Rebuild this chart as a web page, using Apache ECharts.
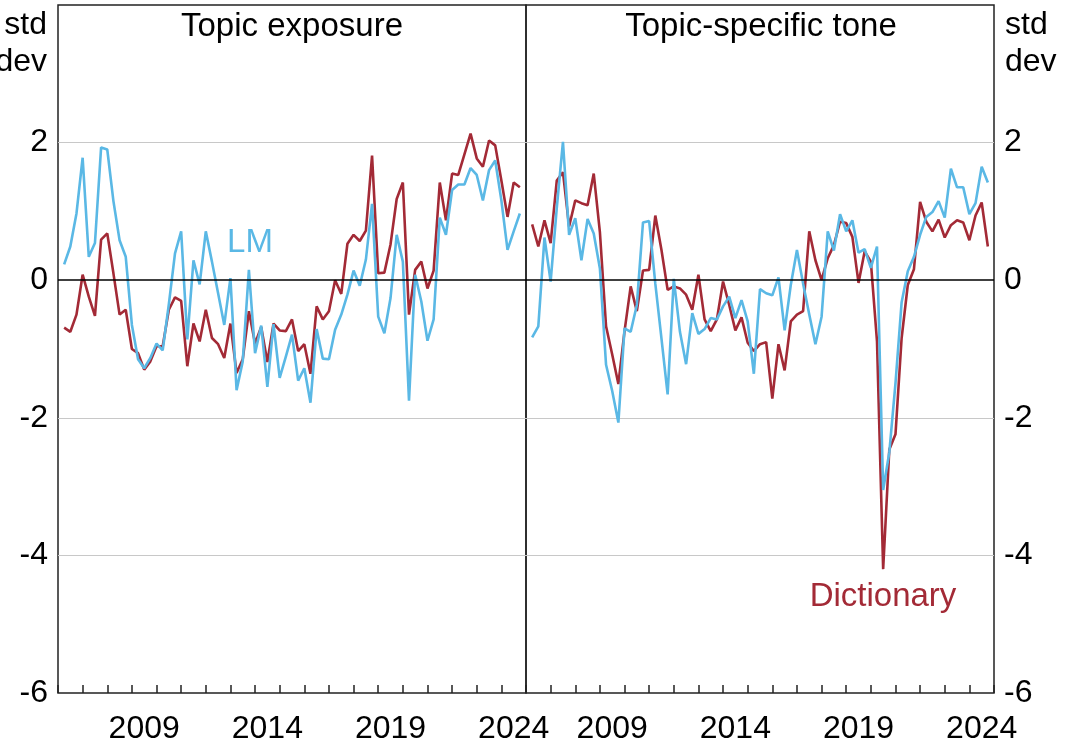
<!DOCTYPE html>
<html><head><meta charset="utf-8">
<script src="https://cdn.jsdelivr.net/npm/echarts@6.0.0/dist/echarts.min.js"></script>
<style>html,body{margin:0;padding:0;background:#fff}#c{width:1065px;height:750px}</style>
</head><body><div id="c"></div>
<script>
const quarters = [
'2006Q1','2006Q2','2006Q3','2006Q4','2007Q1','2007Q2','2007Q3','2007Q4',
'2008Q1','2008Q2','2008Q3','2008Q4','2009Q1','2009Q2','2009Q3','2009Q4',
'2010Q1','2010Q2','2010Q3','2010Q4','2011Q1','2011Q2','2011Q3','2011Q4',
'2012Q1','2012Q2','2012Q3','2012Q4','2013Q1','2013Q2','2013Q3','2013Q4',
'2014Q1','2014Q2','2014Q3','2014Q4','2015Q1','2015Q2','2015Q3','2015Q4',
'2016Q1','2016Q2','2016Q3','2016Q4','2017Q1','2017Q2','2017Q3','2017Q4',
'2018Q1','2018Q2','2018Q3','2018Q4','2019Q1','2019Q2','2019Q3','2019Q4',
'2020Q1','2020Q2','2020Q3','2020Q4','2021Q1','2021Q2','2021Q3','2021Q4',
'2022Q1','2022Q2','2022Q3','2022Q4','2023Q1','2023Q2','2023Q3','2023Q4',
'2024Q1','2024Q2','2024Q3'];
const years = ['2006','2007','2008','2009','2010','2011','2012','2013','2014','2015',
'2016','2017','2018','2019','2020','2021','2022','2023','2024'];
const yearLabels = ['2009','2014','2019','2024'];

const exposureLM = [0.23,0.49,0.97,1.78,0.34,0.54,1.93,1.90,1.15,0.58,0.34,-0.65,-1.15,-1.28,-1.13,-0.92,
-1.02,-0.35,0.39,0.71,-0.86,0.29,-0.06,0.71,0.27,-0.19,-0.65,0.03,-1.60,-1.18,0.15,-1.06,
-0.66,-1.55,-0.64,-1.42,-1.11,-0.79,-1.46,-1.28,-1.78,-0.71,-1.14,-1.15,-0.72,-0.50,-0.21,0.14,
-0.08,0.30,1.11,-0.53,-0.77,-0.26,0.66,0.27,-1.75,0.08,-0.31,-0.88,-0.57,0.91,0.66,1.31,
1.39,1.39,1.63,1.53,1.16,1.60,1.74,1.16,0.44,0.71,0.97];
const exposureDict = [-0.69,-0.75,-0.50,0.08,-0.24,-0.52,0.59,0.68,0.10,-0.50,-0.43,-1.00,-1.06,-1.30,-1.18,-0.96,
-0.96,-0.43,-0.25,-0.30,-1.25,-0.63,-0.89,-0.43,-0.84,-0.93,-1.13,-0.63,-1.35,-1.15,-0.45,-0.92,
-0.68,-1.19,-0.63,-0.73,-0.74,-0.57,-1.03,-0.93,-1.36,-0.38,-0.57,-0.45,0.00,-0.20,0.53,0.66,
0.57,0.72,1.81,0.10,0.11,0.52,1.18,1.42,-0.50,0.15,0.27,-0.12,0.14,1.42,0.87,1.55,
1.53,1.83,2.13,1.77,1.65,2.03,1.96,1.45,0.92,1.42,1.35];
const toneLM = [-0.83,-0.67,0.62,-0.02,1.05,2.01,0.66,0.90,0.29,0.89,0.68,0.17,-1.23,-1.61,-2.07,-0.70,
-0.75,-0.36,0.84,0.86,-0.05,-0.85,-1.66,0.02,-0.75,-1.22,-0.48,-0.78,-0.71,-0.55,-0.57,-0.38,
-0.24,-0.55,-0.29,-0.60,-1.36,-0.13,-0.19,-0.22,0.04,-0.73,-0.07,0.44,-0.05,-0.50,-0.93,-0.53,
0.71,0.43,0.96,0.71,0.87,0.40,0.45,0.18,0.49,-3.05,-2.50,-1.50,-0.32,0.13,0.34,0.66,
0.92,0.99,1.15,0.91,1.62,1.35,1.35,0.96,1.12,1.65,1.42];
const toneDict = [0.81,0.49,0.87,0.54,1.45,1.57,0.78,1.16,1.12,1.09,1.55,0.70,-0.67,-1.08,-1.51,-0.74,
-0.09,-0.45,0.14,0.15,0.94,0.44,-0.14,-0.09,-0.12,-0.21,-0.43,0.08,-0.57,-0.74,-0.57,-0.02,
-0.36,-0.73,-0.54,-0.91,-1.03,-0.93,-0.90,-1.72,-0.93,-1.31,-0.60,-0.50,-0.45,0.71,0.29,0.00,
0.32,0.51,0.85,0.83,0.63,-0.04,0.42,0.27,-0.89,-4.20,-2.46,-2.24,-0.84,-0.07,0.16,1.14,
0.85,0.71,0.88,0.62,0.80,0.87,0.84,0.58,0.94,1.13,0.49];

const BLUE = '#5AB8E5', RED = '#A32A36';
const FONT = 'Liberation Sans, Arial, sans-serif';

function qToT(q){ return +q.slice(0,4) + (+q.slice(5))/4; }
function pairs(vals){ return vals.map((v,i)=>[qToT(quarters[i]), v]); }

const chart = echarts.init(document.getElementById('c'), null, {renderer:'canvas'});

function xAxes(g){
  return [
    {type:'value', gridIndex:g, min:2006, max:2025, interval:1,
     axisLine:{show:false, onZero:false}, splitLine:{show:false},
     axisTick:{show:true, inside:true, length:8, lineStyle:{color:'#222', width:1.5}},
     axisLabel:{show:false}},
    {type:'category', gridIndex:g, position:'bottom', data:years, boundaryGap:true,
     axisLine:{show:false, onZero:false}, axisTick:{show:false}, splitLine:{show:false},
     axisLabel:{show:true, margin:20, fontSize:32, color:'#000', fontFamily:FONT,
       interval:(i,v)=>yearLabels.indexOf(v)>=0}}
  ];
}
function yAxis(g, pos){
  return {type:'value', gridIndex:g, position:pos, min:-6, max:4, interval:2,
    axisLine:{show:false}, axisTick:{show:false},
    splitLine:{show:true, lineStyle:{color:['rgba(0,0,0,0)','#c8c8c8','#c8c8c8','rgba(0,0,0,0)','#c8c8c8','rgba(0,0,0,0)'], width:1.2}},
    axisLabel:{margin:10, fontSize:32, color:'#000', fontFamily:FONT,
      formatter:v=>v===4?'':String(v)}};
}
const zeroLine = {silent:true, symbol:'none', label:{show:false}, animation:false,
  lineStyle:{color:'#000', width:1.6, type:'solid'}, data:[{yAxis:0}]};
function line(vals, color, xi, yi, ml){
  const s = {type:'line', xAxisIndex:xi, yAxisIndex:yi, data:pairs(vals), showSymbol:false, symbol:'none',
    lineStyle:{color:color, width:2.6}, itemStyle:{color:color}, smooth:false, z:3};
  if(ml) s.markLine = zeroLine;
  return s;
}
function txt(text, x, y, align, color, size){
  return {type:'text', x:x, y:y, silent:true, z:10,
    style:{text:text, fill:color, font:size+'px '+FONT, textAlign:align, align:align,
      textVerticalAlign:'middle', verticalAlign:'middle'}};
}

chart.setOption({
  animation:false,
  backgroundColor:'#fff',
  grid:[
    {left:58, top:5, width:468, height:688, show:true, borderColor:'#222', borderWidth:1.5, backgroundColor:'rgba(0,0,0,0)'},
    {left:526, top:5, width:468, height:688, show:true, borderColor:'#222', borderWidth:1.5, backgroundColor:'rgba(0,0,0,0)'}
  ],
  xAxis:[...xAxes(0), ...xAxes(1)],
  yAxis:[yAxis(0,'left'), yAxis(1,'right')],
  series:[
    line(exposureDict, RED, 0, 0, true),
    line(exposureLM, BLUE, 0, 0, false),
    line(toneDict, RED, 2, 1, true),
    line(toneLM, BLUE, 2, 1, false)
  ],
  graphic:[
    txt('Topic exposure', 292, 27, 'center', '#000', 33),
    txt('Topic-specific tone', 761, 27, 'center', '#000', 33),
    txt('std', 47, 25, 'right', '#000', 32),
    txt('dev', 47, 62, 'right', '#000', 32),
    txt('std', 1005, 25, 'left', '#000', 32),
    txt('dev', 1005, 62, 'left', '#000', 32),
    txt('LM', 250, 243, 'center', BLUE, 33),
    txt('Dictionary', 883, 597, 'center', RED, 33)
  ]
});
</script>
</body></html>
